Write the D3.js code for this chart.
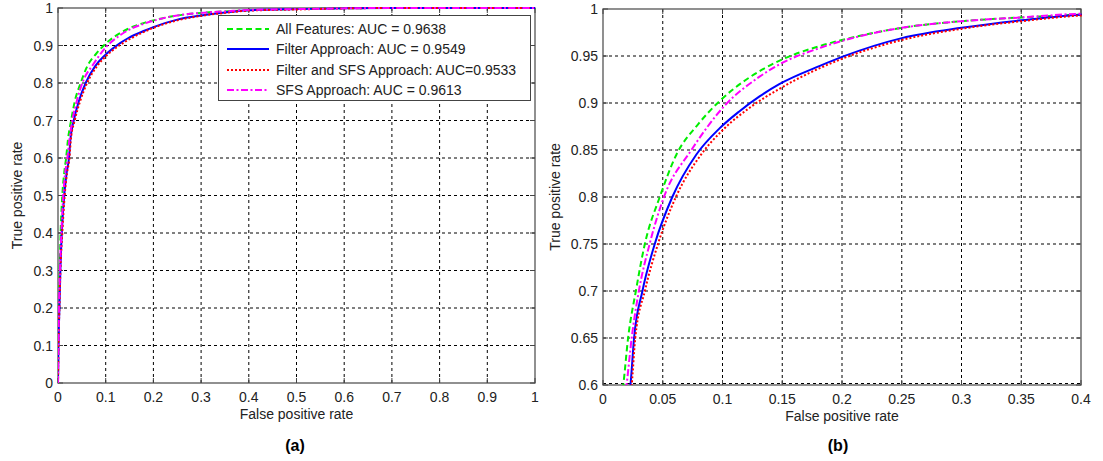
<!DOCTYPE html>
<html><head><meta charset="utf-8">
<script src="https://cdn.jsdelivr.net/npm/d3@7"></script>
<style>
html,body{margin:0;padding:0;background:#fff;}
svg{display:block;font-family:"Liberation Sans",Arial,sans-serif;}
</style></head>
<body>
<svg id="chart" width="1103" height="461"></svg>
<script>
// ---- data ----
const seriesNames = ["All Features: AUC = 0.9638","Filter Approach: AUC = 0.9549","Filter and SFS Approach: AUC=0.9533","SFS Approach: AUC = 0.9613"];
const fprAll = [0,0.001,0.002,0.004,0.006,0.009,0.013,0.017,0.021,0.0275,0.035,0.0475,0.0614,0.08,0.0975,0.12,0.146,0.1825,0.2,0.25,0.3,0.35,0.4,0.5,0.6,0.7,0.8,1];
const tprAll = [0,0.12,0.22,0.33,0.42,0.5,0.56,0.6,0.65,0.7,0.75,0.8,0.845,0.878,0.902,0.925,0.944,0.961,0.967,0.98,0.987,0.991,0.994,0.997,0.999,1,1,1];
const fprFilter = [0,0.001,0.003,0.005,0.008,0.013,0.018,0.023,0.026,0.033,0.0433,0.058,0.078,0.0975,0.114,0.131,0.1475,0.1825,0.2,0.25,0.3,0.35,0.4,0.5,0.6,0.7,0.8,1];
const tprFilter = [0,0.1,0.2,0.3,0.4,0.5,0.56,0.6,0.65,0.7,0.75,0.8,0.845,0.873,0.891,0.907,0.92,0.94,0.949,0.969,0.98,0.988,0.994,0.997,0.999,1,1,1];
const fprFilterSFS = [0,0.001,0.003,0.005,0.009,0.014,0.019,0.024,0.027,0.035,0.046,0.061,0.082,0.1,0.125,0.1475,0.2,0.25,0.3,0.35,0.4,0.5,0.6,0.7,0.8,1];
const tprFilterSFS = [0,0.1,0.2,0.3,0.4,0.5,0.56,0.6,0.65,0.7,0.75,0.8,0.845,0.871,0.897,0.915,0.947,0.967,0.979,0.987,0.993,0.996,0.999,1,1,1];
const fprSFS = [0,0.001,0.002,0.004,0.007,0.011,0.015,0.0197,0.024,0.030,0.039,0.051,0.074,0.1017,0.131,0.1475,0.1825,0.2,0.25,0.3,0.35,0.4,0.5,0.6,0.7,0.8,1];
const tprSFS = [0,0.1,0.2,0.3,0.4,0.5,0.56,0.6,0.65,0.7,0.75,0.8,0.85,0.897,0.928,0.941,0.959,0.966,0.98,0.987,0.991,0.995,0.997,0.999,1,1,1];
const xTicksA = [0,0.1,0.2,0.3,0.4,0.5,0.6,0.7,0.8,0.9,1];
const yTicksA = [0,0.1,0.2,0.3,0.4,0.5,0.6,0.7,0.8,0.9,1];
const xTicksB = [0,0.05,0.1,0.15,0.2,0.25,0.3,0.35,0.4];
const yTicksB = [0.6,0.65,0.7,0.75,0.8,0.85,0.9,0.95,1];

const styles = [
  {color:"#00ee00", dash:"6,3.5"},
  {color:"#0000ff", dash:null},
  {color:"#ff0000", dash:"2,2"},
  {color:"#ff00ff", dash:"7,2.5,2,2.5"}
];
const seriesData = [[fprAll,tprAll],[fprFilter,tprFilter],[fprFilterSFS,tprFilterSFS],[fprSFS,tprSFS]];

const svg = d3.select("#chart");
const fmt = d3.format("~g");
const FS = 14;

function panel(id, box, xDom, yDom, xTicks, yTicks, opts){
  const x = d3.scaleLinear().domain(xDom).range([box.l, box.r]);
  const y = d3.scaleLinear().domain(yDom).range([box.b, box.t]);
  const g = svg.append("g");
  g.append("clipPath").attr("id","clip"+id).append("rect")
    .attr("x",box.l).attr("y",box.t-2).attr("width",box.r-box.l+1).attr("height",box.b-box.t+2);
  // grid
  xTicks.forEach(v=>{
    if(v===xDom[0]||v===xDom[1]) return;
    g.append("line").attr("x1",x(v)).attr("x2",x(v)).attr("y1",box.t).attr("y2",box.b)
      .attr("stroke","#000").attr("stroke-width",1).attr("stroke-dasharray","3,3");
  });
  yTicks.forEach(v=>{
    if(v===yDom[1]) return;
    if(v===yDom[0] && !opts.bottomGrid) return;
    const yy = v===yDom[0]? y(v)-1.5 : y(v);
    g.append("line").attr("x1",box.l).attr("x2",box.r).attr("y1",yy).attr("y2",yy)
      .attr("stroke","#000").attr("stroke-width",1).attr("stroke-dasharray","3,3");
  });
  // box + ticks
  g.append("rect").attr("x",box.l).attr("y",box.t).attr("width",box.r-box.l).attr("height",box.b-box.t)
    .attr("fill","none").attr("stroke","#555").attr("stroke-width",1.3);
  const tl = 5;
  xTicks.forEach(v=>{
    g.append("line").attr("x1",x(v)).attr("x2",x(v)).attr("y1",box.b).attr("y2",box.b-tl).attr("stroke","#444");
    g.append("line").attr("x1",x(v)).attr("x2",x(v)).attr("y1",box.t).attr("y2",box.t+tl).attr("stroke","#444");
    g.append("text").attr("x",x(v)).attr("y",box.b+19).attr("text-anchor","middle")
      .attr("font-size",FS).attr("fill","#222").text(fmt(v));
  });
  yTicks.forEach(v=>{
    g.append("line").attr("x1",box.l).attr("x2",box.l+tl).attr("y1",y(v)).attr("y2",y(v)).attr("stroke","#444");
    g.append("line").attr("x1",box.r).attr("x2",box.r-tl).attr("y1",y(v)).attr("y2",y(v)).attr("stroke","#444");
    g.append("text").attr("x",box.l-5).attr("y",y(v)+5).attr("text-anchor","end")
      .attr("font-size",FS).attr("fill","#222").text(fmt(v));
  });
  // curves
  const line = d3.line().x(d=>x(d[0])).y(d=>y(d[1])).curve(d3.curveMonotoneX);
  const cg = g.append("g").attr("clip-path","url(#clip"+id+")");
  seriesData.forEach((s,i)=>{
    const pts = s[0].map((v,k)=>[v,s[1][k]]);
    cg.append("path").attr("d",line(pts)).attr("fill","none")
      .attr("stroke",styles[i].color).attr("stroke-width",2)
      .attr("stroke-dasharray",styles[i].dash);
  });
  // labels
  g.append("text").attr("x",(box.l+box.r)/2).attr("y",box.b+36).attr("text-anchor","middle")
    .attr("font-size",FS).attr("fill","#222").text("False positive rate");
  g.append("text").attr("transform",`translate(${opts.ylabX},${(box.t+box.b)/2}) rotate(-90)`)
    .attr("text-anchor","middle").attr("font-size",FS).attr("fill","#222").text("True positive rate");
  g.append("text").attr("x",opts.capX).attr("y",451).attr("text-anchor","middle")
    .attr("font-size",16).attr("font-weight","bold").attr("fill","#000").text(opts.caption);
  return {x,y,g};
}

panel("a",{l:58,r:535,t:8,b:383},[0,1],[0,1],xTicksA,yTicksA,{ylabX:22,capX:295,caption:"(a)"});
panel("b",{l:603,r:1081,t:9,b:385},[0,0.4],[0.6,1],xTicksB,yTicksB,{ylabX:560,capX:838,caption:"(b)",bottomGrid:true});

// legend
const lg = svg.append("g");
lg.append("rect").attr("x",218.5).attr("y",15.5).attr("width",312).attr("height",85)
  .attr("fill","#fff").attr("stroke","#444").attr("stroke-width",1);
const ly = [29,49,70,90];
seriesNames.forEach((n,i)=>{
  lg.append("line").attr("x1",227).attr("x2",269).attr("y1",ly[i]).attr("y2",ly[i])
    .attr("stroke",styles[i].color).attr("stroke-width",2).attr("stroke-dasharray",styles[i].dash);
  lg.append("text").attr("x",276).attr("y",ly[i]+5).attr("font-size",FS).attr("fill","#222").text(n);
});
</script>
</body></html>
